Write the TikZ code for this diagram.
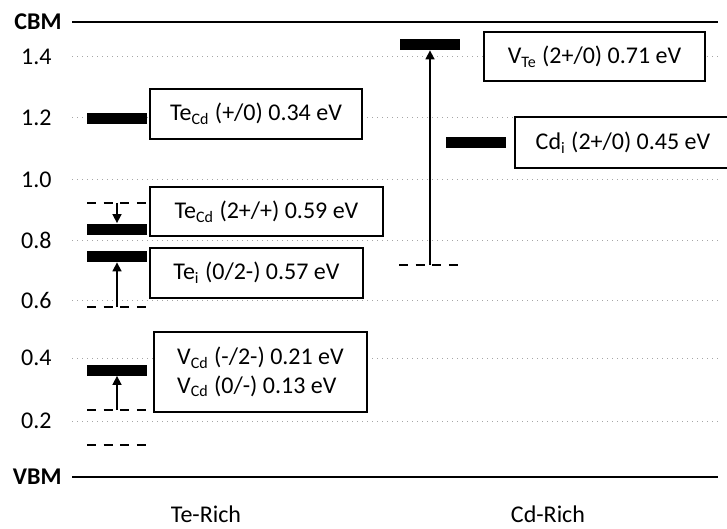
\documentclass[tikz,border=0pt]{standalone}
\usepackage{fontspec}
\setmainfont{Carlito}
\usetikzlibrary{arrows.meta}

\begin{document}
\begin{tikzpicture}[x=0.5pt, y=-0.5pt, font=\fontsize{12}{14.4}\selectfont,
  axisline/.style={line width=1.3pt},
  gridline/.style={dotted, gray!70, line width=0.5pt},
  level/.style={fill=black, inner sep=0pt, minimum width=30pt, minimum height=5.5pt},
  ghost/.style={dash pattern=on 4.5pt off 3.8pt, line width=1pt},
  jump/.style={-{Triangle[width=4.5pt,length=4.5pt]}, line width=0.8pt},
  tag/.style={draw, fill=white, line width=0.75pt, inner sep=0pt, align=left}
]

\clip (0,0) rectangle (727,529);

% Grid and energy scale
\foreach \y/\lab [count=\i] in {57/1.4, 118/1.2, 180/1.0, 240/0.8, 300/0.6, 358/0.4, 421/0.2} {
  \draw[gridline] (72,\y) -- (718,\y);
  \node[anchor=east, inner sep=0pt] (tick\i) at (52,\y) {\lab};
}

% Band edges
\draw[axisline] (72,22) -- (718,22);
\draw[axisline] (72,477) -- (718,477);
\node[anchor=east, inner sep=0pt, font=\fontsize{12}{14.4}\selectfont\bfseries] (cbm) at (62,22) {CBM};
\node[anchor=east, inner sep=0pt, font=\fontsize{12}{14.4}\selectfont\bfseries] (vbm) at (62,477) {VBM};

% Label boxes
\node[tag, minimum width=106pt, minimum height=25pt] (tagTeCdA) at (256,114) {Te\textsubscript{Cd} (+/0) 0.34 eV};
\node[tag, minimum width=116.5pt, minimum height=24.5pt] (tagTeCdB) at (266.5,211.5) {Te\textsubscript{Cd} (2+/+) 0.59 eV};
\node[tag, minimum width=106.5pt, minimum height=25pt] (tagTei) at (256.5,273) {Te\textsubscript{i} (0/2-) 0.57 eV};
\node[tag, minimum width=106.5pt, minimum height=40pt] (tagVCd) at (260.5,372) {V\textsubscript{Cd} (-/2-) 0.21 eV\\V\textsubscript{Cd} (0/-) 0.13 eV};
\node[tag, minimum width=110.5pt, minimum height=24.5pt] (tagVTe) at (594.5,56.5) {V\textsubscript{Te} (2+/0) 0.71 eV};
\node[tag, minimum width=108pt, minimum height=25.5pt] (tagCdi) at (623,142.5) {Cd\textsubscript{i} (2+/0) 0.45 eV};

% Defect levels, Te-rich side
\node[level] (TeCdA) at (117,118.5) {};
\node[level] (TeCdB) at (117,229) {};
\node[level] (Tei) at (117,256.5) {};
\node[level] (VCd) at (117,370) {};

% Defect levels, Cd-rich side
\node[level] (VTe) at (430,44.5) {};
\node[level] (Cdi) at (476,143) {};

% Unrelaxed levels (dashed)
\draw[ghost] (87,203) -- (147,203) coordinate[midway] (TeCdBold);
\draw[ghost] (87,307) -- (147,307) coordinate[midway] (Teiold);
\draw[ghost] (87,410) -- (147,410) coordinate[midway] (VCdold);
\draw[ghost] (87,445) -- (147,445);
\draw[ghost] (399,265) -- (461,265) coordinate[midway] (VTeold);

% Relaxation shifts
\draw[jump] (TeCdBold) -- (TeCdB.north);
\draw[jump] (Teiold) -- (Tei.south);
\draw[jump] (VCdold) -- (VCd.south);
\draw[jump] (VTeold) -- (VTe.south);

% Conditions
\node[inner sep=0pt] (terich) at (206,514) {Te-Rich};
\node[inner sep=0pt] (cdrich) at (548,514) {Cd-Rich};

\end{tikzpicture}
\end{document}
